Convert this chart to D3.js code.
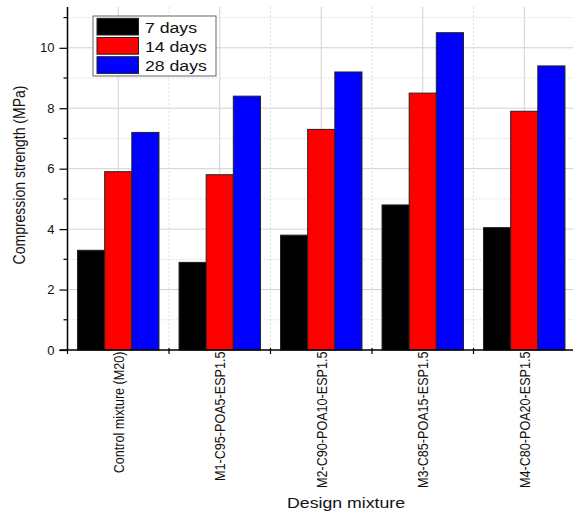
<!DOCTYPE html>
<html>
<head>
<meta charset="utf-8">
<script src="https://cdn.jsdelivr.net/npm/d3@7"></script>
<style>
  body { margin: 0; background: #fff; }
  svg { display: block; font-family: "Liberation Sans", Arial, sans-serif; }
</style>
</head>
<body>
<svg id="chart" width="573" height="513"></svg>
<script>
const categories = ['Control mixture (M20)', 'M1-C95-POA5-ESP1.5', 'M2-C90-POA10-ESP1.5', 'M3-C85-POA15-ESP1.5', 'M4-C80-POA20-ESP1.5']
const seriesNames = ['7 days', '14 days', '28 days']
const days7 = [3.3, 2.9, 3.8, 4.8, 4.05]
const days14 = [5.9, 5.8, 7.3, 8.5, 7.9]
const days28 = [7.2, 8.4, 9.2, 10.5, 9.4]
const yTicks = [0, 2, 4, 6, 8, 10]
const yMinor = [1, 3, 5, 7, 9, 11]
const colors = ['#000000', '#ff0000', '#0000ff']

const svg = d3.select('#chart')
const plotLeft = 67.5, plotRight = 575, plotTop = 7, plotBottom = 350
// the picture is a bit stretched sideways, so text gets widened
const stretch = 1.14

const series = [days7, days14, days28]

const x = d3.scaleBand()
  .domain(categories)
  .range([plotLeft, plotRight])
  .paddingInner(0)
  .paddingOuter(0)

const inner = d3.scaleBand()
  .domain(seriesNames)
  .range([0, x.bandwidth()])
  .paddingInner(0)
  .paddingOuter(0.37)

const y = d3.scaleLinear()
  .domain([0, 11.35])
  .range([plotBottom, plotTop])

// grid
const grid = svg.append('g')
grid.selectAll('line.ymaj')
  .data(yTicks.filter(d => d > 0))
  .enter().append('line')
  .attr('x1', plotLeft).attr('x2', plotRight)
  .attr('y1', d => y(d)).attr('y2', d => y(d))
  .attr('stroke', '#d2d2d2').attr('stroke-width', 1)
grid.selectAll('line.ymin')
  .data(yMinor)
  .enter().append('line')
  .attr('x1', plotLeft).attr('x2', plotRight)
  .attr('y1', d => y(d)).attr('y2', d => y(d))
  .attr('stroke', '#dcdcdc').attr('stroke-width', 1).attr('stroke-dasharray', '2,2')
grid.selectAll('line.xmaj')
  .data(categories)
  .enter().append('line')
  .attr('x1', d => x(d) + x.bandwidth() / 2).attr('x2', d => x(d) + x.bandwidth() / 2)
  .attr('y1', plotTop).attr('y2', plotBottom)
  .attr('stroke', '#d2d2d2').attr('stroke-width', 1)
grid.selectAll('line.xmin')
  .data(categories.slice(1))
  .enter().append('line')
  .attr('x1', d => x(d)).attr('x2', d => x(d))
  .attr('y1', plotTop).attr('y2', plotBottom)
  .attr('stroke', '#dcdcdc').attr('stroke-width', 1).attr('stroke-dasharray', '2,2')

// bars
const groups = svg.selectAll('g.grp')
  .data(categories)
  .enter().append('g')
  .attr('class', 'grp')
  .attr('transform', d => `translate(${x(d)},0)`)

groups.selectAll('rect')
  .data((d, i) => series.map((s, j) => ({ name: seriesNames[j], value: s[i], color: colors[j] })))
  .enter().append('rect')
  .attr('x', d => inner(d.name))
  .attr('width', inner.bandwidth())
  .attr('y', d => y(d.value))
  .attr('height', d => plotBottom - y(d.value))
  .attr('fill', d => d.color)
  .attr('stroke', '#222')
  .attr('stroke-width', 1)

// y axis
const yAxis = d3.axisLeft(y).tickValues(yTicks).tickSize(8).tickPadding(5)
const yg = svg.append('g')
  .attr('transform', `translate(${plotLeft},0)`)
  .call(yAxis)
yg.select('.domain').attr('d', `M0,${plotTop}V${plotBottom}`).attr('stroke', '#000').attr('stroke-width', 1.5)
yg.selectAll('.tick line').attr('stroke', '#000').attr('stroke-width', 1.2)
yg.selectAll('.tick text').attr('font-size', 13).attr('fill', '#111').attr('font-family', '"Liberation Sans", Arial, sans-serif')
yg.selectAll('line.minor')
  .data(yMinor)
  .enter().append('line')
  .attr('x1', -4).attr('x2', 0)
  .attr('y1', d => y(d)).attr('y2', d => y(d))
  .attr('stroke', '#000').attr('stroke-width', 1.2)

// x axis
const xg = svg.append('g')
  .attr('transform', `translate(0,${plotBottom})`)
xg.append('line')
  .attr('x1', plotLeft - 8).attr('x2', plotRight)
  .attr('y1', 0).attr('y2', 0)
  .attr('stroke', '#000').attr('stroke-width', 1.5)
xg.selectAll('line.tk')
  .data(categories)
  .enter().append('line')
  .attr('x1', d => x(d)).attr('x2', d => x(d))
  .attr('y1', -2).attr('y2', 4)
  .attr('stroke', '#000').attr('stroke-width', 1.2)
xg.selectAll('text.cat')
  .data(categories)
  .enter().append('text')
  .attr('class', 'cat')
  .attr('transform', d => `translate(${x(d) + x.bandwidth() / 2 + 5.5},${1.5}) rotate(-90) scale(1,${stretch})`)
  .attr('text-anchor', 'end')
  .attr('font-size', 12.6)
  .attr('fill', '#111')
  .text(d => d)

// axis titles
svg.append('text')
  .attr('transform', `translate(25,175) rotate(-90) scale(1,${stretch})`)
  .attr('text-anchor', 'middle')
  .attr('font-size', 14)
  .attr('fill', '#111')
  .text('Compression strength (MPa)')

svg.append('text')
  .attr('transform', `translate(346,508) scale(1.18,1)`)
  .attr('text-anchor', 'middle')
  .attr('font-size', 15)
  .attr('fill', '#111')
  .text('Design mixture')

// legend
const legend = svg.append('g').attr('transform', 'translate(93,16)')
legend.append('rect')
  .attr('width', 123).attr('height', 60)
  .attr('fill', '#fff').attr('stroke', '#666').attr('stroke-width', 1)
seriesNames.forEach((n, i) => {
  legend.append('rect')
    .attr('x', 4).attr('y', 2.3 + i * 19.2)
    .attr('width', 41.5).attr('height', 16.7)
    .attr('fill', colors[i]).attr('stroke', '#222')
  legend.append('text')
    .attr('transform', `translate(52,${16.5 + i * 19.2}) scale(${stretch},1)`)
    .attr('font-size', 15.5)
    .attr('fill', '#111')
    .text(n)
})
</script>
</body>
</html>
